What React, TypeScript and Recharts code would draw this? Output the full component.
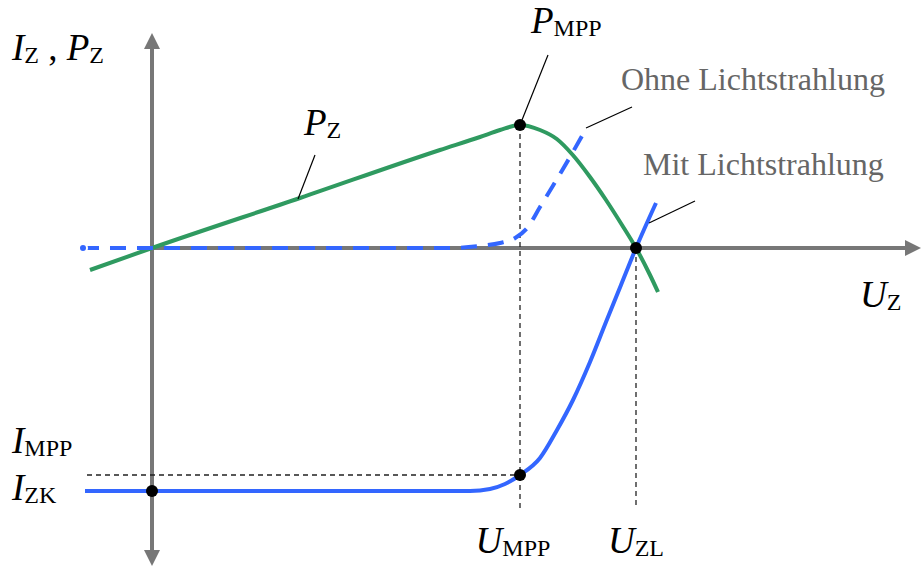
import React from 'react';
import {
  ComposedChart,
  XAxis,
  YAxis,
  Line,
  ReferenceLine,
  ReferenceDot,
} from 'recharts';

// Characteristic points (voltage U in V, current / power in arbitrary units)
const U_MPP = 0.46;
const U_ZL = 0.605;
const I_MPP = -2.27;
const I_ZK = -2.43;
const P_MPP = 1.23;

// Power curve P_Z(U)
const powerU = [-0.0775, 0, 0.185, 0.36, 0.41, 0.435, 0.46, 0.485, 0.506, 0.526, 0.5475, 0.5675, 0.5875, 0.605, 0.6225, 0.6325];
const powerP = [-0.22, 0, 0.5, 0.98, 1.11, 1.18, 1.23, 1.18, 1.09, 0.93, 0.71, 0.48, 0.23, 0, -0.27, -0.44];

// Dark characteristic (ohne Lichtstrahlung)
const darkU = [-0.08625, 0.3725, 0.41, 0.435, 0.454, 0.469, 0.485, 0.501, 0.5225, 0.543];
const darkI = [0, 0, 0.02, 0.05, 0.1, 0.2, 0.41, 0.62, 0.91, 1.2];

// Illuminated characteristic (mit Lichtstrahlung)
const litU = [-0.08375, 0.3975, 0.4225, 0.44125, 0.46, 0.485, 0.50625, 0.52625, 0.5475, 0.5675, 0.58625, 0.605, 0.63];
const litI = [-2.43, -2.43, -2.41, -2.36, -2.27, -2.1, -1.82, -1.52, -1.14, -0.74, -0.37, 0, 0.45];

const X_DOMAIN: [number, number] = [-0.19, 0.96125];
const Y_DOMAIN: [number, number] = [-3.2, 2.48];

const toRows = (us: number[], vs: number[]) => us.map((u, i) => ({ u, v: vs[i] }));
const powerData = toRows(powerU, powerP);
const darkData = toRows(darkU, darkI);
const litData = toRows(litU, litI);

const GREEN = '#2f9a60';
const BLUE = '#3366ff';
const AXIS = '#777777';
const SERIF = '"Liberation Serif", "Times New Roman", serif';

type Part = { t: string; sub?: boolean; italic?: boolean };

const MAIN_SIZE = 37;
const SUB_SIZE = 24;
const SUB_SHIFT = 3;

function Formula({ x, y, parts, anchor = 'start' }: { x: number; y: number; parts: Part[]; anchor?: string }) {
  let shifted = false;
  return (
    <text x={x} y={y} textAnchor={anchor} fontFamily={SERIF} fill="#000">
      {parts.map((p, i) => {
        let dy = 0;
        if (p.sub && !shifted) { dy = SUB_SHIFT; shifted = true; }
        else if (!p.sub && shifted) { dy = -SUB_SHIFT; shifted = false; }
        return (
          <tspan
            key={i}
            dy={dy}
            fontSize={p.sub ? SUB_SIZE : MAIN_SIZE}
            fontStyle={p.italic ? 'italic' : 'normal'}
          >
            {p.t}
          </tspan>
        );
      })}
    </text>
  );
}

function formulaLabel(parts: Part[], dx: number, dy: number, anchor = 'start') {
  return (props: any) => {
    const vb = props.viewBox || {};
    const cx = (vb.x ?? 0) + (vb.width ?? 0) / 2;
    const cy = (vb.y ?? 0) + (vb.height ?? 0) / 2;
    return <Formula x={cx + dx} y={cy + dy} parts={parts} anchor={anchor} />;
  };
}

function plainLabel(text: string, dx: number, dy: number) {
  return (props: any) => {
    const vb = props.viewBox || {};
    const cx = (vb.x ?? 0) + (vb.width ?? 0) / 2;
    const cy = (vb.y ?? 0) + (vb.height ?? 0) / 2;
    return (
      <text x={cx + dx} y={cy + dy} fontFamily={SERIF} fontSize={32} fill="#666666">
        {text}
      </text>
    );
  };
}

// Axis line with arrowhead(s)
function AxisArrow(props: any) {
  const { x1, y1, x2, y2, both } = props;
  const len = 16;
  const half = 8;
  const dx = x2 - x1;
  const dy = y2 - y1;
  const d = Math.hypot(dx, dy) || 1;
  const ux = dx / d;
  const uy = dy / d;
  const head = (tx: number, ty: number, sx: number, sy: number) => {
    const bx = tx - sx * len;
    const by = ty - sy * len;
    return `${tx},${ty} ${bx - sy * half},${by + sx * half} ${bx + sy * half},${by - sx * half}`;
  };
  const sx1 = both ? x1 + ux * (len - 2) : x1;
  const sy1 = both ? y1 + uy * (len - 2) : y1;
  return (
    <g>
      <line x1={sx1} y1={sy1} x2={x2 - ux * (len - 2)} y2={y2 - uy * (len - 2)} stroke={AXIS} strokeWidth={4} />
      <polygon points={head(x2, y2, ux, uy)} fill={AXIS} />
      {both && <polygon points={head(x1, y1, -ux, -uy)} fill={AXIS} />}
    </g>
  );
}

export default function App() {
  return (
    <div style={{ position: 'absolute', left: 0, top: 0, width: 921, height: 568, background: '#fff' }}>
      <ComposedChart width={921} height={568} margin={{ top: 0, right: 0, bottom: 0, left: 0 }}>
        <XAxis type="number" dataKey="u" domain={X_DOMAIN} allowDataOverflow hide />
        <YAxis type="number" dataKey="v" domain={Y_DOMAIN} allowDataOverflow hide />

        {/* coordinate axes */}
        <ReferenceLine
          segment={[{ x: 0, y: -3.18 }, { x: 0, y: 2.15 }]}
          ifOverflow="visible"
          shape={(p: any) => <AxisArrow {...p} both />}
          zIndex={-10}
        />
        <ReferenceLine
          segment={[{ x: 0, y: 0 }, { x: X_DOMAIN[1], y: 0 }]}
          ifOverflow="visible"
          shape={(p: any) => <AxisArrow {...p} />}
          zIndex={-10}
        />

        {/* guide lines at the operating points */}
        <ReferenceLine segment={[{ x: U_MPP, y: P_MPP }, { x: U_MPP, y: -2.62 }]} ifOverflow="visible" stroke="#222" strokeWidth={1.3} strokeDasharray="5 4" />
        <ReferenceLine segment={[{ x: U_ZL, y: 0 }, { x: U_ZL, y: -2.6 }]} ifOverflow="visible" stroke="#222" strokeWidth={1.3} strokeDasharray="5 4" />
        <ReferenceLine segment={[{ x: -0.08125, y: I_MPP }, { x: U_MPP, y: I_MPP }]} ifOverflow="visible" stroke="#222" strokeWidth={1.3} strokeDasharray="5 4" />

        {/* characteristics */}
        <Line data={powerData} dataKey="v" type="monotone" stroke={GREEN} strokeWidth={4} dot={false} isAnimationActive={false} />
        <Line data={darkData} dataKey="v" type="monotone" stroke={BLUE} strokeWidth={4} strokeDasharray="16 11" strokeDashoffset={0} dot={false} isAnimationActive={false} />
        <Line data={litData} dataKey="v" type="monotone" stroke={BLUE} strokeWidth={4} dot={false} isAnimationActive={false} />

        {/* leader lines */}
        <ReferenceLine segment={[{ x: 0.20375, y: 0.93 }, { x: 0.1825, y: 0.49 }]} ifOverflow="visible" stroke="#000" strokeWidth={1.2} />
        <ReferenceLine segment={[{ x: 0.495, y: 1.93 }, { x: U_MPP, y: P_MPP }]} ifOverflow="visible" stroke="#000" strokeWidth={1.2} />
        <ReferenceLine segment={[{ x: 0.6, y: 1.41 }, { x: 0.5425, y: 1.2 }]} ifOverflow="visible" stroke="#000" strokeWidth={1.2} />
        <ReferenceLine segment={[{ x: 0.67875, y: 0.47 }, { x: 0.62125, y: 0.25 }]} ifOverflow="visible" stroke="#000" strokeWidth={1.2} />

        {/* operating points */}
        <ReferenceDot x={0} y={I_ZK} r={6} fill="#000" stroke="none" ifOverflow="visible" />
        <ReferenceDot x={U_MPP} y={I_MPP} r={6} fill="#000" stroke="none" ifOverflow="visible" />
        <ReferenceDot x={U_MPP} y={P_MPP} r={6} fill="#000" stroke="none" ifOverflow="visible" />
        <ReferenceDot x={U_ZL} y={0} r={6} fill="#000" stroke="none" ifOverflow="visible" />

        {/* labels */}
        <ReferenceDot x={0} y={2.15} r={0} fill="none" stroke="none" ifOverflow="visible"
          label={formulaLabel([{ t: 'I', italic: true }, { t: 'Z', sub: true }, { t: ' , ', sub: false }, { t: 'P', italic: true }, { t: 'Z', sub: true }], -140, 27)} />
        <ReferenceDot x={0.20375} y={0.93} r={0} fill="none" stroke="none" ifOverflow="visible"
          label={formulaLabel([{ t: 'P', italic: true }, { t: 'Z', sub: true }], -11, -20)} />
        <ReferenceDot x={0.495} y={1.93} r={0} fill="none" stroke="none" ifOverflow="visible"
          label={formulaLabel([{ t: 'P', italic: true }, { t: 'MPP', sub: true }], -17, -22)} />
        <ReferenceDot x={0.6} y={1.41} r={0} fill="none" stroke="none" ifOverflow="visible"
          label={plainLabel('Ohne Lichtstrahlung', -11, -17)} />
        <ReferenceDot x={0.67875} y={0.47} r={0} fill="none" stroke="none" ifOverflow="visible"
          label={plainLabel('Mit Lichtstrahlung', -52, -26)} />
        <ReferenceDot x={X_DOMAIN[1]} y={0} r={0} fill="none" stroke="none" ifOverflow="visible"
          label={formulaLabel([{ t: 'U', italic: true }, { t: 'Z', sub: true }], -61, 59)} />
        <ReferenceDot x={U_MPP} y={-2.62} r={0} fill="none" stroke="none" ifOverflow="visible"
          label={formulaLabel([{ t: 'U', italic: true }, { t: 'MPP', sub: true }], -7, 43, 'middle')} />
        <ReferenceDot x={U_ZL} y={-2.6} r={0} fill="none" stroke="none" ifOverflow="visible"
          label={formulaLabel([{ t: 'U', italic: true }, { t: 'ZL', sub: true }], 0, 45, 'middle')} />
        <ReferenceDot x={-0.08125} y={I_MPP} r={0} fill="none" stroke="none" ifOverflow="visible"
          label={formulaLabel([{ t: 'I', italic: true }, { t: 'MPP', sub: true }], -75, -22)} />
        <ReferenceDot x={0} y={I_ZK} r={0} fill="none" stroke="none" ifOverflow="visible"
          label={formulaLabel([{ t: 'I', italic: true }, { t: 'ZK', sub: true }], -140, 9)} />
      </ComposedChart>
    </div>
  );
}
